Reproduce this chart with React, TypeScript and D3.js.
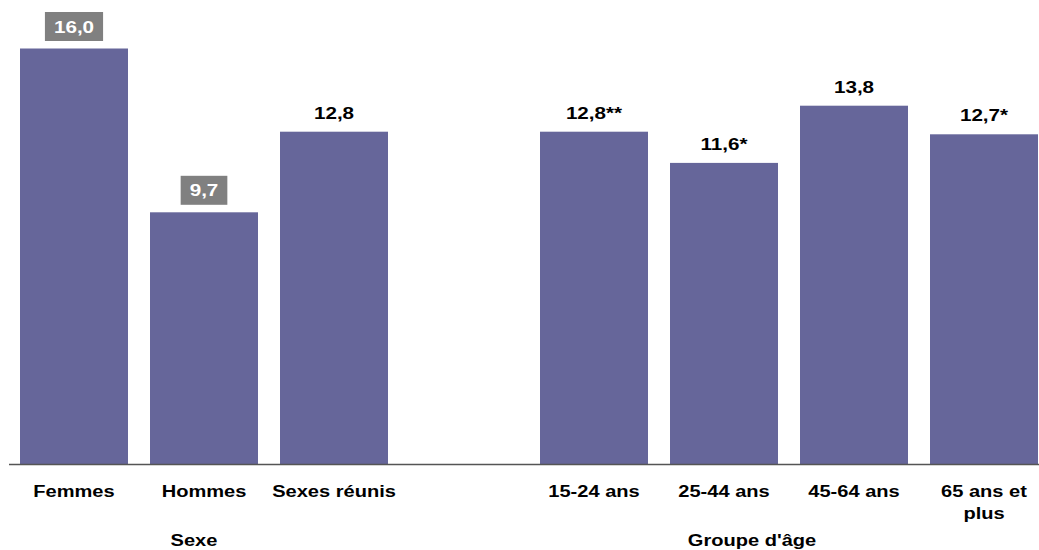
import React from "react";
import * as d3 from "d3";

const categories = ["Femmes", "Hommes", "Sexes réunis", "", "15-24 ans", "25-44 ans", "45-64 ans", "65 ans et|plus"];
const values: (number | null)[] = [16.0, 9.7, 12.8, null, 12.8, 11.6, 13.8, 12.7];
const valueLabels = ["16,0", "9,7", "12,8", "", "12,8**", "11,6*", "13,8", "12,7*"];
const boxed = [true, true, false, false, false, false, false, false];
const groups = [
  { label: "Sexe", x: 194 },
  { label: "Groupe d'âge", x: 752 },
];

const W = 1039;
const H = 550;
const FONT = "'Liberation Sans', Arial, Helvetica, sans-serif";
const BAR = "#66669A";
const BOX = "#808080";
const VSCALE = 1.29;
const CSCALE = 1.18;

export default function App() {
  const slots = categories.map((_, i) => String(i));
  const x = d3.scaleBand<string>().domain(slots).range([9, 1049]).paddingInner(22 / 130).paddingOuter(11 / 130);
  const y = d3.scaleLinear().domain([0, 16]).range([464.5, 48.5]);
  const bw = x.bandwidth();

  return (
    <svg width={W} height={H} style={{ position: "absolute", left: 0, top: 0, background: "#fff" }} fontFamily={FONT}>
      {values.map((v, i) => {
        if (v === null) return null;
        const x0 = x(String(i))!;
        const top = y(v);
        const cx = x0 + bw / 2;
        const label = valueLabels[i];
        let labelEl;
        if (boxed[i]) {
          const tw = label.length * 0.5 * 16 * VSCALE;
          // approximate width from char metrics
          const metrics: Record<string, number> = { ",": 0.278, "*": 0.389 };
          let em = 0;
          for (const c of label) em += metrics[c] ?? 0.556;
          const textW = em * 16 * VSCALE;
          const bwBox = textW + 18;
          const bh = 29;
          const by = top - 7.5 - bh;
          labelEl = (
            <g>
              <rect x={cx - bwBox / 2} y={by} width={bwBox} height={bh} fill={BOX} />
              <text transform={`translate(${cx},${by + bh / 2 + 6}) scale(${VSCALE},1)`} textAnchor="middle" fontSize={16} fontWeight="bold" fill="#fff">
                {label}
              </text>
            </g>
          );
          void tw;
        } else {
          labelEl = (
            <text transform={`translate(${cx},${top - 13}) scale(${VSCALE},1)`} textAnchor="middle" fontSize={16} fontWeight="bold" fill="#000">
              {label}
            </text>
          );
        }
        return (
          <g key={i}>
            <rect x={x0} y={top} width={bw} height={y(0) - top} fill={BAR} />
            {labelEl}
          </g>
        );
      })}
      <line x1={9} x2={W} y1={y(0)} y2={y(0)} stroke="#555" strokeWidth={1.5} />
      {categories.map((c, i) => {
        if (!c) return null;
        const cx = x(String(i))! + bw / 2;
        const lines = c.split("|");
        return (
          <text key={i} transform={`translate(${cx},496.5) scale(${CSCALE},1)`} textAnchor="middle" fontSize={17} fontWeight="bold" fill="#000">
            {lines.map((l, j) => (
              <tspan key={j} x={0} dy={j === 0 ? 0 : 23}>
                {l}
              </tspan>
            ))}
          </text>
        );
      })}
      {groups.map((g) => (
        <text key={g.label} transform={`translate(${g.x},546) scale(${CSCALE},1)`} textAnchor="middle" fontSize={17} fontWeight="bold" fill="#000">
          {g.label}
        </text>
      ))}
    </svg>
  );
}
